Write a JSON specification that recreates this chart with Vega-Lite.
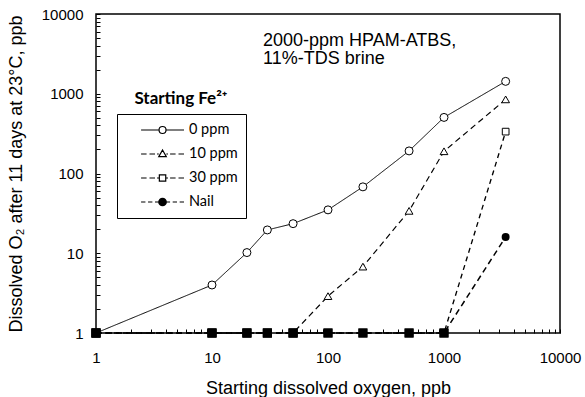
{
  "$schema": "https://vega.github.io/schema/vega-lite/v6.json",
  "width": 464,
  "height": 319,
  "autosize": "none",
  "padding": {"left": 96, "top": 14, "right": 25, "bottom": 64},
  "background": "white",
  "config": {
    "view": {"stroke": "black", "strokeWidth": 1.5},
    "axis": {
      "grid": false,
      "domain": false,
      "labelFont": "Liberation Sans",
      "labelFontSize": 15,
      "labelColor": "black",
      "labelOverlap": false,
      "labelFlush": false,
      "titleFont": "Liberation Sans",
      "titleFontSize": 18,
      "titleFontWeight": "normal",
      "titleColor": "black"
    }
  },
  "datasets": {
    "o2": [
      {"fe": "0 ppm", "start": 1, "o2": 1},
      {"fe": "0 ppm", "start": 10, "o2": 4},
      {"fe": "0 ppm", "start": 20, "o2": 10.2},
      {"fe": "0 ppm", "start": 30, "o2": 19.6},
      {"fe": "0 ppm", "start": 50, "o2": 23.5},
      {"fe": "0 ppm", "start": 100, "o2": 35},
      {"fe": "0 ppm", "start": 200, "o2": 68},
      {"fe": "0 ppm", "start": 500, "o2": 192},
      {"fe": "0 ppm", "start": 1000, "o2": 505},
      {"fe": "0 ppm", "start": 3400, "o2": 1430},
      {"fe": "10 ppm", "start": 1, "o2": 1},
      {"fe": "10 ppm", "start": 10, "o2": 1},
      {"fe": "10 ppm", "start": 20, "o2": 1},
      {"fe": "10 ppm", "start": 30, "o2": 1},
      {"fe": "10 ppm", "start": 50, "o2": 1},
      {"fe": "10 ppm", "start": 100, "o2": 2.9},
      {"fe": "10 ppm", "start": 200, "o2": 6.8},
      {"fe": "10 ppm", "start": 500, "o2": 34},
      {"fe": "10 ppm", "start": 1000, "o2": 190},
      {"fe": "10 ppm", "start": 3400, "o2": 850},
      {"fe": "30 ppm", "start": 1, "o2": 1},
      {"fe": "30 ppm", "start": 10, "o2": 1},
      {"fe": "30 ppm", "start": 20, "o2": 1},
      {"fe": "30 ppm", "start": 30, "o2": 1},
      {"fe": "30 ppm", "start": 50, "o2": 1},
      {"fe": "30 ppm", "start": 100, "o2": 1},
      {"fe": "30 ppm", "start": 200, "o2": 1},
      {"fe": "30 ppm", "start": 500, "o2": 1},
      {"fe": "30 ppm", "start": 1000, "o2": 1},
      {"fe": "30 ppm", "start": 3400, "o2": 335},
      {"fe": "Nail", "start": 1, "o2": 1},
      {"fe": "Nail", "start": 10, "o2": 1},
      {"fe": "Nail", "start": 20, "o2": 1},
      {"fe": "Nail", "start": 30, "o2": 1},
      {"fe": "Nail", "start": 50, "o2": 1},
      {"fe": "Nail", "start": 100, "o2": 1},
      {"fe": "Nail", "start": 200, "o2": 1},
      {"fe": "Nail", "start": 500, "o2": 1},
      {"fe": "Nail", "start": 1000, "o2": 1},
      {"fe": "Nail", "start": 3400, "o2": 16}
    ]
  },
  "data": {"name": "o2"},
  "layer": [
    {
      "mark": {"type": "line", "color": "black"},
      "encoding": {
        "x": {
          "field": "start",
          "type": "quantitative",
          "scale": {"type": "log", "domain": [1, 10000], "nice": false},
          "axis": {
            "title": "Starting dissolved oxygen, ppb",
            "values": [1,2,3,4,5,6,7,8,9,10,20,30,40,50,60,70,80,90,100,200,300,400,500,600,700,800,900,1000,2000,3000,4000,5000,6000,7000,8000,9000,10000],
            "labelExpr": "indexof([1,10,100,1000,10000], datum.value) >= 0 ? format(datum.value, 'd') : ''",
            "ticks": true,
            "tickSize": 4,
            "tickColor": "#000000",
            "tickOpacity": 1,
            "tickWidth": 1,
            "offset": -4,
            "zindex": 2,
            "labelPadding": 17,
            "titlePadding": 14
          }
        },
        "y": {
          "field": "o2",
          "type": "quantitative",
          "scale": {"type": "log", "domain": [1, 10000], "nice": false},
          "axis": {
            "title": "Dissolved O₂ after 11 days at 23°C, ppb",
            "values": [1,2,3,4,5,6,7,8,9,10,20,30,40,50,60,70,80,90,100,200,300,400,500,600,700,800,900,1000,2000,3000,4000,5000,6000,7000,8000,9000,10000],
            "labelExpr": "indexof([1,10,100,1000,10000], datum.value) >= 0 ? format(datum.value, 'd') : ''",
            "ticks": true,
            "tickSize": 4,
            "tickColor": "#000000",
            "tickOpacity": 1,
            "tickWidth": 1,
            "offset": -4,
            "zindex": 2,
            "labelPadding": 13,
            "titlePadding": 16
          }
        },
        "detail": {"field": "fe"},
        "order": {"field": "start", "type": "quantitative"},
        "strokeDash": {
          "field": "fe",
          "type": "nominal",
          "scale": {"domain": ["Nail", "30 ppm", "10 ppm", "0 ppm"], "range": [[6, 4], [5, 4], [6, 4], [1, 0]]},
          "legend": null
        },
        "strokeWidth": {
          "field": "fe",
          "type": "nominal",
          "scale": {"domain": ["Nail", "30 ppm", "10 ppm", "0 ppm"], "range": [1.5, 1, 1.5, 1]},
          "legend": null
        }
      }
    },
    {
      "transform": [{"filter": "datum.o2 > 1 && datum.fe === '0 ppm'"}],
      "mark": {"type": "point", "shape": "circle", "filled": false, "fill": "white", "stroke": "black", "strokeWidth": 1, "size": 64, "opacity": 1},
      "encoding": {
        "x": {"field": "start", "type": "quantitative"},
        "y": {"field": "o2", "type": "quantitative"}
      }
    },
    {
      "transform": [{"filter": "datum.o2 > 1 && datum.fe === '10 ppm'"}],
      "mark": {"type": "point", "shape": "triangle-up", "filled": false, "fill": "white", "stroke": "black", "strokeWidth": 1, "size": 60, "opacity": 1},
      "encoding": {
        "x": {"field": "start", "type": "quantitative"},
        "y": {"field": "o2", "type": "quantitative"}
      }
    },
    {
      "transform": [{"filter": "datum.o2 > 1 && datum.fe === '30 ppm'"}],
      "mark": {"type": "point", "shape": "square", "filled": false, "fill": "white", "stroke": "black", "strokeWidth": 1, "size": 45, "opacity": 1},
      "encoding": {
        "x": {"field": "start", "type": "quantitative"},
        "y": {"field": "o2", "type": "quantitative"}
      }
    },
    {
      "transform": [{"filter": "datum.o2 > 1 && datum.fe === 'Nail'"}],
      "mark": {"type": "point", "shape": "circle", "filled": true, "color": "black", "size": 64, "opacity": 1},
      "encoding": {
        "x": {"field": "start", "type": "quantitative"},
        "y": {"field": "o2", "type": "quantitative"}
      }
    },
    {
      "transform": [{"filter": "datum.o2 == 1"}],
      "mark": {"type": "square", "filled": true, "color": "black", "size": 81, "opacity": 1},
      "encoding": {
        "x": {"field": "start", "type": "quantitative"},
        "y": {"field": "o2", "type": "quantitative"}
      }
    },
    {
      "transform": [{"filter": "false"}],
      "mark": {"type": "point", "filled": false, "color": "black", "strokeWidth": 1.2, "size": 3364, "opacity": 1},
      "encoding": {
        "x": {"field": "start", "type": "quantitative"},
        "y": {"field": "o2", "type": "quantitative"},
        "shape": {
          "field": "fe",
          "type": "nominal",
          "scale": {
            "domain": ["0 ppm", "10 ppm", "30 ppm", "Nail"],
            "range": [
              "M-0.48,0L0.14,0M0.38,0L1,0M0.38,0A0.12,0.12,0,1,1,0.14,0A0.12,0.12,0,1,1,0.38,0",
              "M-0.48,0L-0.29,0M-0.19,0L0,0M0.07,0L0.13,0M0.39,0L0.45,0M0.52,0L0.71,0M0.81,0L1,0M0.26,-0.14L0.39,0.09L0.13,0.09Z",
              "M-0.48,0L-0.29,0M-0.19,0L0,0M0.07,0L0.15,0M0.37,0L0.45,0M0.52,0L0.71,0M0.81,0L1,0M0.15,-0.11L0.37,-0.11L0.37,0.11L0.15,0.11Z",
              "M-0.48,0L-0.33,0M-0.24,0L-0.09,0M0,0L0.13,0M0.39,0L0.52,0M0.61,0L0.76,0M0.85,0L1,0M0.39,0A0.13,0.13,0,1,1,0.13,0A0.13,0.13,0,1,1,0.39,0M0.35,0A0.09,0.09,0,1,1,0.17,0A0.09,0.09,0,1,1,0.35,0M0.31,0A0.05,0.05,0,1,1,0.21,0A0.05,0.05,0,1,1,0.31,0M0.28,0A0.02,0.02,0,1,1,0.24,0A0.02,0.02,0,1,1,0.28,0"
            ]
          },
          "legend": {
            "title": null,
            "orient": "none",
            "legendX": 21,
            "legendY": 100,
            "strokeColor": "black",
            "fillColor": "white",
            "padding": 8,
            "labelFont": "Lato",
            "labelFontSize": 14.5,
            "labelColor": "black",
            "labelOffset": 4,
            "rowPadding": 8,
            "clipHeight": 16,
            "symbolSize": 3364,
            "symbolFillColor": "transparent",
            "symbolStrokeColor": "black",
            "symbolStrokeWidth": 1.2
          }
        }
      }
    },
    {
      "data": {"values": [{}]},
      "mark": {"type": "text", "align": "left", "baseline": "alphabetic", "font": "Liberation Sans", "fontSize": 18, "lineHeight": 18, "color": "black"},
      "encoding": {
        "x": {"datum": 27.5},
        "y": {"datum": 3970},
        "text": {"value": ["2000-ppm HPAM-ATBS,", "\u00a011%-TDS brine"]}
      }
    },
    {
      "data": {"values": [{}]},
      "mark": {"type": "text", "align": "center", "baseline": "alphabetic", "font": "Lato", "fontSize": 17, "fontWeight": "bold", "color": "black"},
      "encoding": {
        "x": {"datum": 5.4},
        "y": {"datum": 743},
        "text": {"value": "Starting Fe²⁺"}
      }
    }
  ]
}
